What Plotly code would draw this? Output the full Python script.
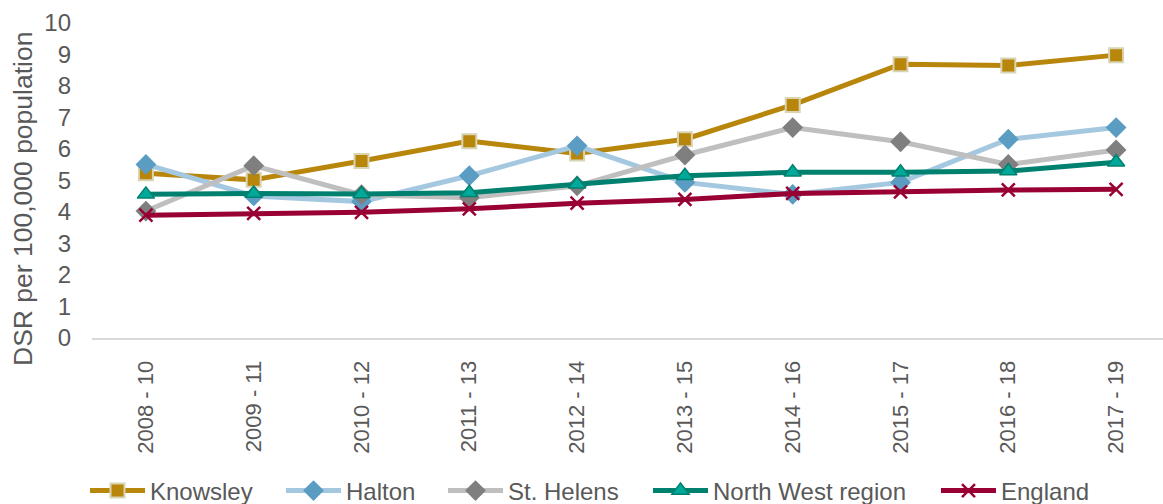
import plotly.graph_objects as go

categories = ["2008 - 10", "2009 - 11", "2010 - 12", "2011 - 13", "2012 - 14",
              "2013 - 15", "2014 - 16", "2015 - 17", "2016 - 18", "2017 - 19"]

knowsley = [5.23, 5.02, 5.62, 6.25, 5.86, 6.31, 7.40, 8.69, 8.65, 8.98]
halton = [5.51, 4.51, 4.33, 5.15, 6.10, 4.94, 4.56, 4.94, 6.31, 6.68]
st_helens = [4.03, 5.47, 4.55, 4.45, 4.83, 5.81, 6.68, 6.23, 5.51, 5.97]
north_west = [4.56, 4.59, 4.57, 4.61, 4.88, 5.15, 5.26, 5.26, 5.30, 5.58]
england = [3.90, 3.96, 3.99, 4.10, 4.28, 4.40, 4.59, 4.64, 4.70, 4.72]

y_ticks = list(range(0, 11))

FONT = "Liberation Sans, Arial, sans-serif"
GREY = "#595959"

series = [
    ("Knowsley", knowsley, "#B8860B", dict(symbol="square", size=14, color="#B8860B",
                                          line=dict(color="#D8D4B4", width=2)), "legend"),
    ("Halton", halton, "#A4C8DF", dict(symbol="diamond", size=16, color="#5B9CC3",
                                      line=dict(width=0)), "legend2"),
    ("St. Helens", st_helens, "#BFBFBF", dict(symbol="diamond", size=16, color="#7F7F7F",
                                             line=dict(width=0)), "legend3"),
    ("North West region", north_west, "#00806F", dict(symbol="triangle-up", size=15, color="#00A99A",
                                                     line=dict(color="#00806F", width=1.5)), "legend4"),
    ("England", england, "#990033", dict(symbol="x-thin", size=13, color="#990033",
                                        line=dict(color="#990033", width=2.5)), "legend5"),
]

fig = go.Figure()
for name, vals, col, marker, leg in series:
    fig.add_trace(go.Scatter(
        x=categories, y=vals, name=name, mode="lines+markers",
        line=dict(color=col, width=5), marker=marker, legend=leg,
    ))

W, H = 1163, 504
legend_text_px = [151, 347, 509, 714, 1002]
ITEMW = 55

legend_common = dict(orientation="h", yanchor="middle", yref="container", xref="container",
                     y=1 - 491 / H, xanchor="left", itemwidth=ITEMW,
                     font=dict(family=FONT, size=24, color=GREY),
                     bgcolor="rgba(0,0,0,0)", borderwidth=0)
layout_legends = {}
for i, px in enumerate(legend_text_px):
    key = "legend" if i == 0 else f"legend{i+1}"
    layout_legends[key] = dict(legend_common, x=(px - (ITEMW + 11)) / W)

fig.update_layout(
    width=W, height=H,
    margin=dict(l=92, r=0, t=23, b=166),
    paper_bgcolor="white", plot_bgcolor="white",
    font=dict(family=FONT, size=22, color=GREY),
    showlegend=True,
    annotations=[dict(
        text="DSR per 100,000 population", textangle=-90,
        xref="paper", yref="paper",
        x=(23 - 92) / 1071, y=(338 - 199) / 315,
        xanchor="center", yanchor="middle", showarrow=False,
        font=dict(family=FONT, size=26.5, color=GREY),
    )],
    **layout_legends,
)

fig.update_xaxes(
    type="category", range=[-0.5, 9.435],
    tickangle=-90, tickfont=dict(family=FONT, size=22, color=GREY),
    showgrid=False, showline=True, linecolor="#D9D9D9", linewidth=2,
    ticks="", ticklabelstandoff=12, zeroline=False,
)
fig.update_yaxes(
    range=[0, 10], tickvals=y_ticks,
    tickfont=dict(family=FONT, size=24, color=GREY),
    showgrid=False, showline=False, zeroline=False, ticks="",
    ticklabelstandoff=20,
)

fig.write_html("out.html")
